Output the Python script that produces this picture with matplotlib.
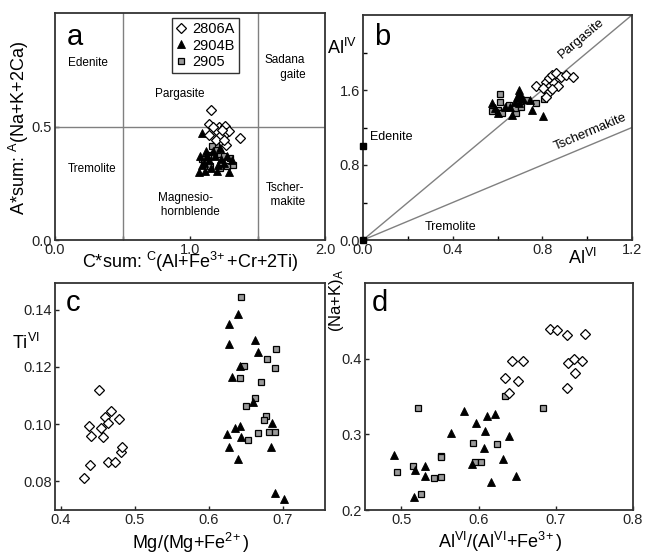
import matplotlib
matplotlib.use("Agg")
import matplotlib.pyplot as plt
import numpy as np

plt.rcParams['font.family'] = ['Liberation Sans', 'DejaVu Sans']
plt.rcParams['mathtext.fontset'] = 'custom'
plt.rcParams['mathtext.rm'] = 'Liberation Sans'
plt.rcParams['mathtext.it'] = 'Liberation Sans'

W, H = 646, 555

# ---------------- data ----------------
series = ["2806A", "2904B", "2905"]

# panel a: C*sum vs A*sum
a_2806A_x = [1.153, 1.141, 1.143, 1.217, 1.259, 1.27, 1.29, 1.198, 1.225, 1.193, 1.27, 1.37, 1.252, 1.235, 1.17]
a_2806A_y = [0.574, 0.510, 0.463, 0.500, 0.503, 0.47, 0.478, 0.478, 0.456, 0.441, 0.419, 0.449, 0.441, 0.485, 0.500]
a_2904B_x = [1.086, 1.069, 1.111, 1.153, 1.198, 1.291, 1.104, 1.143, 1.185, 1.227, 1.272, 1.074, 1.119, 1.173, 1.222, 1.252, 1.309, 1.086, 1.21, 1.123]
a_2904B_y = [0.471, 0.301, 0.306, 0.316, 0.306, 0.301, 0.338, 0.353, 0.368, 0.356, 0.368, 0.368, 0.390, 0.390, 0.404, 0.338, 0.353, 0.331, 0.331, 0.368]
a_2905_x = [1.086, 1.173, 1.321, 1.272, 1.193, 1.16, 1.222, 1.104, 1.252, 1.136, 1.296, 1.198, 1.148, 1.222]
a_2905_y = [0.356, 0.368, 0.331, 0.324, 0.419, 0.412, 0.379, 0.338, 0.368, 0.375, 0.360, 0.397, 0.324, 0.316]

# panel b: AlVI vs AlIV
b_2806A_x = [0.770, 0.815, 0.830, 0.845, 0.860, 0.883, 0.906, 0.939, 0.830, 0.853, 0.872, 0.830, 0.845, 0.815, 0.803]
b_2806A_y = [1.643, 1.689, 1.724, 1.760, 1.780, 1.735, 1.760, 1.735, 1.636, 1.678, 1.643, 1.582, 1.607, 1.529, 1.618]
b_2904B_x = [0.694, 0.702, 0.574, 0.589, 0.604, 0.664, 0.679, 0.694, 0.712, 0.747, 0.755, 0.803, 0.657, 0.687, 0.634]
b_2904B_y = [1.600, 1.547, 1.458, 1.404, 1.351, 1.333, 1.476, 1.458, 1.500, 1.493, 1.387, 1.323, 1.422, 1.529, 1.422]
b_2905_x = [0.611, 0.611, 0.574, 0.604, 0.619, 0.652, 0.682, 0.679, 0.725, 0.770, 0.808, 0.823, 0.694, 0.706]
b_2905_y = [1.554, 1.476, 1.376, 1.387, 1.351, 1.440, 1.351, 1.404, 1.493, 1.465, 1.500, 1.547, 1.511, 1.422]

# panel c: Mg/(Mg+Fe2+) vs TiVI
c_2806A_x = [0.431, 0.439, 0.438, 0.441, 0.451, 0.459, 0.454, 0.457, 0.464, 0.468, 0.479, 0.464, 0.473, 0.481, 0.482]
c_2806A_y = [0.0811, 0.0855, 0.0994, 0.0959, 0.1120, 0.1026, 0.0985, 0.0956, 0.1004, 0.1047, 0.1018, 0.0866, 0.0866, 0.0901, 0.0919]
c_2904B_x = [0.627, 0.640, 0.627, 0.662, 0.666, 0.631, 0.642, 0.625, 0.627, 0.636, 0.642, 0.644, 0.640, 0.659, 0.686, 0.684, 0.689, 0.702]
c_2904B_y = [0.1352, 0.1387, 0.1280, 0.1294, 0.1251, 0.1166, 0.1204, 0.0965, 0.0921, 0.0985, 0.0994, 0.0956, 0.0878, 0.1076, 0.1003, 0.0921, 0.0758, 0.0738]
c_2905_x = [0.644, 0.642, 0.647, 0.671, 0.678, 0.691, 0.690, 0.662, 0.650, 0.677, 0.674, 0.653, 0.666, 0.681, 0.690]
c_2905_y = [0.1445, 0.1163, 0.1204, 0.1148, 0.1228, 0.1262, 0.1198, 0.1090, 0.1062, 0.1029, 0.1015, 0.0944, 0.0967, 0.0971, 0.0971]

# panel d: AlVI/(AlVI+Fe3+) vs (Na+K)A
d_2806A_x = [0.693, 0.702, 0.714, 0.738, 0.643, 0.657, 0.716, 0.724, 0.734, 0.725, 0.714, 0.634, 0.651, 0.640]
d_2806A_y = [0.4396, 0.4382, 0.4308, 0.4330, 0.3965, 0.3965, 0.3943, 0.4000, 0.3969, 0.3811, 0.3613, 0.3745, 0.3701, 0.3547]
d_2904B_x = [0.490, 0.518, 0.531, 0.531, 0.517, 0.564, 0.581, 0.597, 0.611, 0.621, 0.608, 0.607, 0.592, 0.616, 0.640, 0.632, 0.648]
d_2904B_y = [0.2725, 0.2527, 0.2580, 0.2453, 0.2176, 0.3013, 0.3305, 0.3156, 0.3244, 0.3275, 0.3046, 0.2822, 0.2602, 0.2365, 0.2980, 0.2673, 0.2453]
d_2905_x = [0.522, 0.634, 0.683, 0.593, 0.624, 0.595, 0.603, 0.551, 0.515, 0.495, 0.526, 0.542, 0.552, 0.551]
d_2905_y = [0.3349, 0.3503, 0.3349, 0.2892, 0.2866, 0.2637, 0.2629, 0.2716, 0.2585, 0.2497, 0.2207, 0.2418, 0.2431, 0.2700]

# ---------------- figure ----------------
fig = plt.figure(figsize=(W / 100, H / 100), dpi=100)


def ax_px(l, t, r, b):
    return fig.add_axes([l / W, 1 - b / H, (r - l) / W, (b - t) / H])


def px(x, y):
    return x / W, 1 - y / H


styles = {
    "2806A": dict(marker='D', ms=4.6, mfc='white', mec='black', mew=0.9, ls='none'),
    "2904B": dict(marker='^', ms=5.2, mfc='black', mec='black', mew=0.6, ls='none'),
    "2905": dict(marker='s', ms=4.8, mfc='#9a9a9a', mec='black', mew=0.9, ls='none'),
}


def style_ax(ax):
    for s in ax.spines.values():
        s.set_linewidth(1.3)
        s.set_color('#333333')
    ax.tick_params(direction='in', length=3, width=1, labelsize=10.5, pad=2, colors='#222222')


def plot_series(ax, data):
    handles = {}
    for name in ["2905", "2904B", "2806A"]:
        x, y = data[name]
        h, = ax.plot(x, y, **styles[name], label=name)
        handles[name] = h
    return handles


gray = '#808080'

# ---- panel a ----
axa = ax_px(55, 13, 325, 240)
style_ax(axa)
axa.set_xlim(0, 2.0)
axa.set_ylim(0, 1.0)
axa.axhline(0.5, color=gray, lw=1)
axa.axvline(0.5, color=gray, lw=1)
axa.axvline(1.5, color=gray, lw=1)
ha = plot_series(axa, {"2806A": (a_2806A_x, a_2806A_y), "2904B": (a_2904B_x, a_2904B_y), "2905": (a_2905_x, a_2905_y)})
axa.set_xticks([0, 1.0, 2.0])
axa.set_xticklabels(["0.0", "1.0", "2.0"])
axa.set_xticks([0.5, 1.5], minor=True)
axa.set_yticks([0, 0.5])
axa.set_yticklabels(["0.0", "0.5"])
axa.tick_params(which='minor', direction='in', length=3, width=1)
leg = axa.legend([ha["2806A"], ha["2904B"], ha["2905"]], series, loc='upper left',
                 bbox_to_anchor=((172 - 55) / 270, 1 - (18 - 13) / 227), frameon=True, fancybox=False,
                 edgecolor='black', fontsize=10.5, handlelength=0.6, handletextpad=0.5,
                 borderpad=0.3, labelspacing=0.15, borderaxespad=0)
leg.get_frame().set_linewidth(1.0)
axa.text(0.045, 0.955, "a", transform=axa.transAxes, fontsize=21, va='top', ha='left')
rl = 8.5
axa.text(0.244, 0.78, "Edenite", fontsize=rl, ha='center', va='center')
axa.text(1.704, 0.76, "Sadana\n     gaite", fontsize=rl, ha='center', va='center', linespacing=1.3)
axa.text(0.926, 0.643, "Pargasite", fontsize=rl, ha='center', va='center')
axa.text(0.274, 0.313, "Tremolite", fontsize=rl, ha='center', va='center')
axa.text(0.963, 0.154, "Magnesio-\n   hornblende", fontsize=rl, ha='center', va='center', linespacing=1.3)
axa.text(1.704, 0.198, "Tscher-\n  makite", fontsize=rl, ha='center', va='center', linespacing=1.3)
fig.text(*px(190, 262), r"C*sum: $^{\mathrm{C}}$(Al+Fe$^{3\!+}$+Cr+2Ti)", fontsize=13, ha='center', va='center')
fig.text(*px(19, 128), r"A*sum: $^{\mathrm{A}}$(Na+K+2Ca)", fontsize=13, ha='center', va='center', rotation=90)

# ---- panel b ----
axb = ax_px(363, 15, 632, 240)
style_ax(axb)
axb.set_xlim(0, 1.2)
axb.set_ylim(0, 2.4)
lx = np.array([0, 1.2])
axb.plot(lx, 2 * lx, color=gray, lw=1)
axb.plot(lx, lx, color=gray, lw=1)
plot_series(axb, {"2806A": (b_2806A_x, b_2806A_y), "2904B": (b_2904B_x, b_2904B_y), "2905": (b_2905_x, b_2905_y)})
axb.plot([0, 0], [0, 1.0], ls='none', marker='s', ms=5, mfc='black', mec='black', clip_on=False, zorder=5)
axb.set_xticks([0, 0.4, 0.8, 1.2])
axb.set_xticklabels(["0.0", "0.4", "0.8", "1.2"])
axb.set_xticks([0.2, 0.6, 1.0], minor=True)
axb.set_yticks([0, 0.8, 1.6])
axb.set_yticklabels(["0.0", "0.8", "1.6"])
axb.set_yticks([0.4, 1.2, 2.0], minor=True)
axb.tick_params(which='minor', direction='in', length=3, width=1)
axb.text(0.04, 0.965, "b", transform=axb.transAxes, fontsize=21, va='top', ha='left')
axb.text(0.974, 2.15, "Pargasite", fontsize=9.5, ha='center', va='center', rotation=40)
axb.text(1.014, 1.156, "Tschermakite", fontsize=9.5, ha='center', va='center', rotation=23)
axb.text(0.128, 1.10, "Edenite", fontsize=9, ha='center', va='center')
axb.text(0.39, 0.142, "Tremolite", fontsize=9, ha='center', va='center')
fig.text(*px(342, 48), r"Al$^{\mathrm{IV}}$", fontsize=13, ha='center', va='center')
fig.text(*px(582, 258), r"Al$^{\mathrm{VI}}$", fontsize=13, ha='center', va='center')

# ---- panel c ----
axc = ax_px(55, 283, 325, 510)
style_ax(axc)
axc.set_xlim(0.392, 0.757)
axc.set_ylim(0.0699, 0.1494)
plot_series(axc, {"2806A": (c_2806A_x, c_2806A_y), "2904B": (c_2904B_x, c_2904B_y), "2905": (c_2905_x, c_2905_y)})
axc.set_xticks([0.4, 0.5, 0.6, 0.7])
axc.set_xticklabels(["0.4", "0.5", "0.6", "0.7"])
axc.set_yticks([0.08, 0.10, 0.12, 0.14])
axc.set_yticklabels(["0.08", "0.10", "0.12", "0.14"])
axc.text(0.04, 0.975, "c", transform=axc.transAxes, fontsize=21, va='top', ha='left')
fig.text(*px(26, 343), r"Ti$^{\mathrm{VI}}$", fontsize=13, ha='center', va='center')
fig.text(*px(190, 543), r"Mg/(Mg+Fe$^{2\!+}$)", fontsize=13, ha='center', va='center')

# ---- panel d ----
axd = ax_px(365, 283, 633, 510)
style_ax(axd)
axd.set_xlim(0.453, 0.8)
axd.set_ylim(0.2, 0.5)
plot_series(axd, {"2806A": (d_2806A_x, d_2806A_y), "2904B": (d_2904B_x, d_2904B_y), "2905": (d_2905_x, d_2905_y)})
axd.set_xticks([0.5, 0.6, 0.7, 0.8])
axd.set_xticklabels(["0.5", "0.6", "0.7", "0.8"])
axd.set_yticks([0.2, 0.3, 0.4])
axd.set_yticklabels(["0.2", "0.3", "0.4"])
axd.text(0.025, 0.975, "d", transform=axd.transAxes, fontsize=21, va='top', ha='left')
fig.text(*px(336, 300), r"(Na+K)$_{\mathrm{A}}$", fontsize=12, ha='center', va='center', rotation=90)
fig.text(*px(500, 542), r"Al$^{\mathrm{VI}}$/(Al$^{\mathrm{VI}}$+Fe$^{3\!+}$)", fontsize=13, ha='center', va='center')

fig.savefig("out.png", dpi=100)
